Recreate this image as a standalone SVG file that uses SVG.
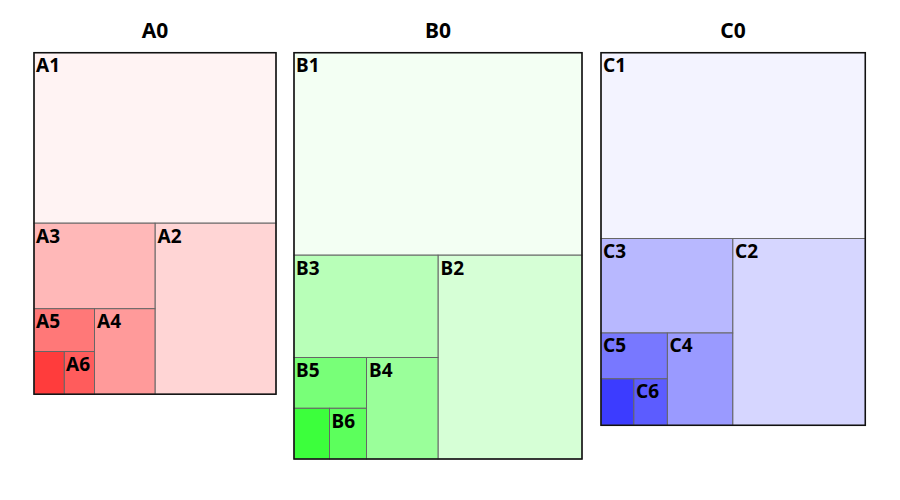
<svg xmlns="http://www.w3.org/2000/svg" width="900" height="500" viewBox="0 0 900 500">
<style>
text{font-family:"Noto Sans","Open Sans","DejaVu Sans",sans-serif;font-weight:bold;fill:#000}
.t{font-size:21px;text-anchor:middle}
.l{font-size:19px}
rect{stroke:#666;stroke-width:1}
.o{fill:none;stroke:#111;stroke-width:1.5}
</style>
<rect x="0" y="0" width="900" height="500" fill="#fff" stroke="none" style="stroke:none"/>
<g id="A0">
<text class="t" x="155" y="38">A0</text>
<g id="A1"><rect x="34" y="52.7" width="242" height="170.5" fill="#fff3f3"/><text class="l" x="36" y="72">A1</text></g>
<g id="A2"><rect x="155" y="223.2" width="121" height="171" fill="#ffd5d5"/><text class="l" x="157.5" y="242.5">A2</text></g>
<g id="A3"><rect x="34" y="223.2" width="121" height="85.5" fill="#ffb8b8"/><text class="l" x="36" y="242.5">A3</text></g>
<g id="A4"><rect x="94.5" y="308.7" width="60.5" height="85.5" fill="#ff9a9a"/><text class="l" x="97" y="328">A4</text></g>
<g id="A5"><rect x="34" y="308.7" width="60.5" height="42.8" fill="#ff7878"/><text class="l" x="36" y="328">A5</text></g>
<g id="A6"><rect x="64.2" y="351.5" width="30.3" height="42.8" fill="#ff5c5c"/><text class="l" x="66" y="370.5">A6</text></g>
<g id="A7"><rect x="34" y="351.5" width="30.2" height="42.8" fill="#ff3c3c"/></g>
<rect class="o" x="34" y="52.7" width="242" height="341.5"/>
</g>
<g id="B0">
<text class="t" x="438" y="38">B0</text>
<g id="B1"><rect x="294" y="52.7" width="288" height="202.5" fill="#f3fff3"/><text class="l" x="296" y="72">B1</text></g>
<g id="B2"><rect x="438" y="255.2" width="144" height="203.8" fill="#d6ffd6"/><text class="l" x="440.5" y="274.5">B2</text></g>
<g id="B3"><rect x="294" y="255.2" width="144" height="102.3" fill="#b8ffb8"/><text class="l" x="296" y="274.5">B3</text></g>
<g id="B4"><rect x="366.5" y="357.5" width="71.5" height="101.5" fill="#9aff9a"/><text class="l" x="369" y="376.8">B4</text></g>
<g id="B5"><rect x="294" y="357.5" width="72.5" height="50.8" fill="#78ff78"/><text class="l" x="296" y="376.8">B5</text></g>
<g id="B6"><rect x="329.5" y="408.3" width="37" height="50.7" fill="#5cff5c"/><text class="l" x="331.5" y="427.5">B6</text></g>
<g id="B7"><rect x="294" y="408.3" width="35.5" height="50.7" fill="#3cff3c"/></g>
<rect class="o" x="294" y="52.7" width="288" height="406.3"/>
</g>
<g id="C0">
<text class="t" x="733" y="38">C0</text>
<g id="C1"><rect x="601" y="52.7" width="264.3" height="185.8" fill="#f3f3ff"/><text class="l" x="603" y="72">C1</text></g>
<g id="C2"><rect x="732.7" y="238.5" width="132.6" height="186.8" fill="#d6d6ff"/><text class="l" x="735" y="257.8">C2</text></g>
<g id="C3"><rect x="601" y="238.5" width="131.7" height="94.5" fill="#b8b8ff"/><text class="l" x="603" y="257.8">C3</text></g>
<g id="C4"><rect x="667.3" y="333" width="65.4" height="92.3" fill="#9a9aff"/><text class="l" x="669.5" y="352.3">C4</text></g>
<g id="C5"><rect x="601" y="333" width="66.3" height="45.8" fill="#7878ff"/><text class="l" x="603" y="352.3">C5</text></g>
<g id="C6"><rect x="633.7" y="378.8" width="33.6" height="46.5" fill="#5c5cff"/><text class="l" x="636" y="398">C6</text></g>
<g id="C7"><rect x="601" y="378.8" width="32.7" height="46.5" fill="#3c3cff"/></g>
<rect class="o" x="601" y="52.7" width="264.3" height="372.6"/>
</g>
<g id="connectors"/>
</svg>
